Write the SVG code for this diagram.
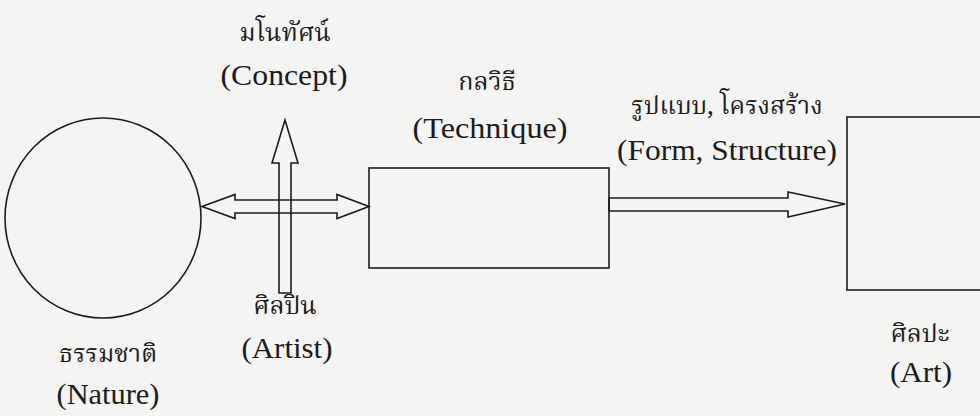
<svg xmlns="http://www.w3.org/2000/svg" width="980" height="416" viewBox="0 0 980 416">
<style>
.s{fill:none;stroke:#1c1c1c;stroke-width:1.6;stroke-linejoin:miter}
text{fill:#1c1c1c;text-anchor:middle}
.en{font-family:"Liberation Serif","Times New Roman",serif;font-size:30px}
.th{font-family:"Noto Serif Thai","Noto Sans Thai","Liberation Serif","DejaVu Sans",serif;font-size:25px}
</style>
<rect x="0" y="0" width="980" height="416" fill="#f4f4f2"/>
<g id="nature">
<ellipse class="s" cx="103" cy="218" rx="98" ry="100"/>
<text class="th" x="108" y="362">ธรรมชาติ</text>
<text class="en" x="108" y="404" textLength="103" lengthAdjust="spacingAndGlyphs">(Nature)</text>
</g>
<g id="technique">
<rect class="s" x="369" y="168" width="240" height="100"/>
<text class="th" x="487" y="90">กลวิธี</text>
<text class="en" x="490" y="138" textLength="155" lengthAdjust="spacingAndGlyphs">(Technique)</text>
</g>
<g id="art">
<rect class="s" x="847" y="117" width="140" height="173"/>
<text class="th" x="920" y="342">ศิลปะ</text>
<text class="en" x="921" y="382" textLength="62" lengthAdjust="spacingAndGlyphs">(Art)</text>
</g>
<g id="concept">
<text class="th" x="285" y="41">มโนทัศน์</text>
<text class="en" x="284" y="85" textLength="127" lengthAdjust="spacingAndGlyphs">(Concept)</text>
</g>
<g id="artist">
<text class="th" x="285" y="314">ศิลปิน</text>
<text class="en" x="287" y="358" textLength="91" lengthAdjust="spacingAndGlyphs">(Artist)</text>
</g>
<g id="form-label">
<text class="th" x="727" y="114">รูปแบบ, โครงสร้าง</text>
<text class="en" x="727" y="160" textLength="220" lengthAdjust="spacingAndGlyphs">(Form, Structure)</text>
</g>
<g id="connectors">
<polygon class="s" points="202,206.5 235,194.5 235,200 337,200 337,194.5 369,206.5 337,218.5 337,213 235,213 235,218.5"/>
<polygon class="s" points="279,293 279,163 272,163 285,120 298,163 291,163 291,293"/>
<polygon class="s" points="609,198 788,198 788,192 845,204 788,217 788,211 609,211"/>
</g>
</svg>
